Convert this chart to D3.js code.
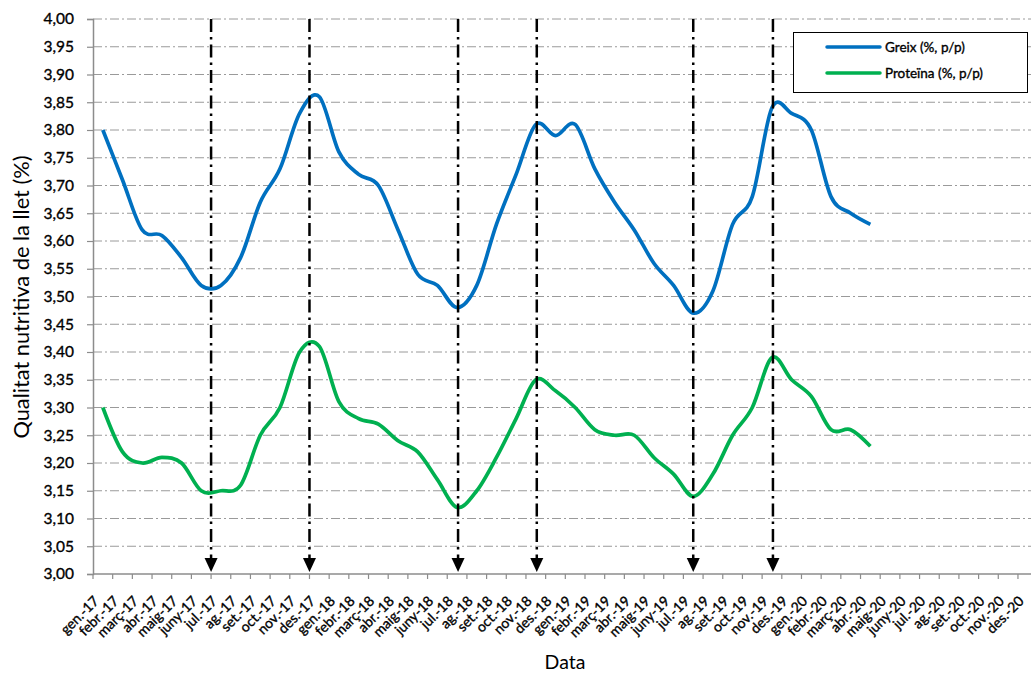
<!DOCTYPE html>
<html><head><meta charset="utf-8">
<script src="https://cdn.jsdelivr.net/npm/d3@7/dist/d3.min.js"></script>
<style>body{margin:0;background:#fff}svg{display:block;font-family:Lato,"Open Sans",sans-serif}</style>
</head><body><svg id="c" width="1031" height="673"></svg>
<script>
const categories = ["gen.-17","febr.-17","març-17","abr.-17","maig-17","juny-17","jul.-17","ag.-17","set.-17","oct.-17","nov.-17","des.-17",
"gen.-18","febr.-18","març-18","abr.-18","maig-18","juny-18","jul.-18","ag.-18","set.-18","oct.-18","nov.-18","des.-18",
"gen.-19","febr.-19","març-19","abr.-19","maig-19","juny-19","jul.-19","ag.-19","set.-19","oct.-19","nov.-19","des.-19",
"gen.-20","febr.-20","març-20","abr.-20","maig-20","juny-20","jul.-20","ag.-20","set.-20","oct.-20","nov.-20","des.-20"];
const greix = [3.80,3.71,3.62,3.61,3.57,3.52,3.52,3.57,3.67,3.73,3.83,3.86,
3.76,3.72,3.70,3.62,3.54,3.52,3.48,3.52,3.63,3.72,3.81,3.79,
3.81,3.73,3.67,3.62,3.56,3.52,3.47,3.51,3.63,3.68,3.84,3.83,
3.80,3.68,3.65,3.63];
const proteina = [3.30,3.22,3.20,3.21,3.20,3.15,3.15,3.16,3.25,3.30,3.40,3.41,
3.31,3.28,3.27,3.24,3.22,3.17,3.12,3.15,3.21,3.28,3.35,3.33,
3.30,3.26,3.25,3.25,3.21,3.18,3.14,3.18,3.25,3.30,3.39,3.35,
3.32,3.26,3.26,3.23];
const seriesNames = ["Greix (%, p/p)","Proteïna (%, p/p)"];
const seriesColors = ["#0070C0","#00B050"];
const arrowPositions = [5.5,10.5,18.05,22.05,30,34.05];
const yTicks = d3.range(0,21).map(i=>+(3+i*0.05).toFixed(2));
const yTitle = "Qualitat nutritiva de la llet (%)";
const xTitle = "Data";

(function(){
const svg = d3.select("#c");
const pLeft = 93, pTop = 19, pBottom = 574, step = 19.68;
const pRight = pLeft + step*categories.length;
const x = d3.scaleBand().domain(categories).range([pLeft,pRight]).padding(0);
const xc = d => x(d)+x.bandwidth()/2;
const xi = d3.scaleLinear().domain([0,categories.length-1]).range([xc(categories[0]), xc(categories[categories.length-1])]);
const y = d3.scaleLinear().domain([3,4]).range([pBottom,pTop]);
const fmt = v => v.toFixed(2).replace(".",",");
const axisCol = "#8c8c8c";
const txtCol = "#000";
const heavy = sel => sel.attr("stroke",txtCol).attr("stroke-width",0.35).attr("paint-order","stroke");

svg.append("g").selectAll("line").data(yTicks.filter(t=>t>3)).join("line")
  .attr("x1",pLeft).attr("x2",pRight).attr("y1",d=>y(d)).attr("y2",d=>y(d))
  .attr("stroke","#9a9a9a").attr("stroke-width",1).attr("stroke-dasharray","9,3,2,3");

const ya = svg.append("g").attr("transform",`translate(${pLeft},0)`)
  .call(d3.axisLeft(y).tickValues(yTicks).tickFormat(fmt).tickSize(6).tickPadding(13));
ya.select(".domain").attr("stroke",axisCol).attr("stroke-width",1.5);
ya.selectAll(".tick line").attr("stroke",axisCol).attr("stroke-width",1.2);
ya.selectAll("text").attr("font-size",15.5).attr("fill",txtCol).attr("font-family","Lato").call(heavy);

const xa = svg.append("g").attr("transform",`translate(0,${pBottom})`);
xa.append("line").attr("x1",pLeft).attr("x2",pRight).attr("stroke",axisCol).attr("stroke-width",1.5);
xa.selectAll("line.tk").data(d3.range(categories.length+1)).join("line").attr("class","tk")
  .attr("x1",i=>pLeft+i*x.bandwidth()).attr("x2",i=>pLeft+i*x.bandwidth()).attr("y1",0).attr("y2",5)
  .attr("stroke",axisCol).attr("stroke-width",1.2);
xa.selectAll("text").data(categories).join("text")
  .attr("transform",d=>`translate(${xc(d)-6.5},${24.5}) rotate(-45)`)
  .attr("text-anchor","end").attr("dy","0.35em").attr("font-size",14).attr("fill",txtCol)
  .call(heavy).text(d=>d);

svg.append("text").attr("transform",`translate(29,${297}) rotate(-90)`)
  .attr("text-anchor","middle").attr("font-size",21).attr("fill",txtCol)
  .attr("textLength",283).attr("lengthAdjust","spacingAndGlyphs").text(yTitle);
svg.append("text").attr("x",565).attr("y",669).attr("text-anchor","middle")
  .attr("font-size",19.5).attr("fill",txtCol).text(xTitle);

const line = d3.line().x((d,i)=>xc(categories[i])).y(d=>y(d)).curve(d3.curveCatmullRom.alpha(0));
[greix,proteina].forEach((s,k)=>{
  svg.append("path").datum(s).attr("d",line).attr("fill","none")
    .attr("stroke",seriesColors[k]).attr("stroke-width",3.7).attr("stroke-linejoin","round");
});

const ag = svg.append("g");
arrowPositions.forEach(p=>{
  const ax = xi(p);
  ag.append("line").attr("x1",ax).attr("x2",ax).attr("y1",pTop).attr("y2",pBottom-12)
    .attr("stroke","#000").attr("stroke-width",2.5).attr("stroke-dasharray","13,5,2.5,5");
  ag.append("path").attr("d",`M${ax-6.5},${pBottom-16} L${ax+6.5},${pBottom-16} L${ax},${pBottom-2} Z`).attr("fill","#000");
});

const lg = svg.append("g");
lg.append("rect").attr("x",793.5).attr("y",32.5).attr("width",234).attr("height",60)
  .attr("fill","#fff").attr("stroke","#000").attr("stroke-width",1);
seriesNames.forEach((n,k)=>{
  const ly = 47 + k*26;
  lg.append("line").attr("x1",827).attr("x2",880).attr("y1",ly).attr("y2",ly)
    .attr("stroke",seriesColors[k]).attr("stroke-width",3.5).attr("stroke-linecap","round");
  lg.append("text").attr("x",885).attr("y",ly).attr("dy","0.35em").attr("font-size",13.5).attr("fill",txtCol).call(heavy).text(n);
});
})();
</script></body></html>
